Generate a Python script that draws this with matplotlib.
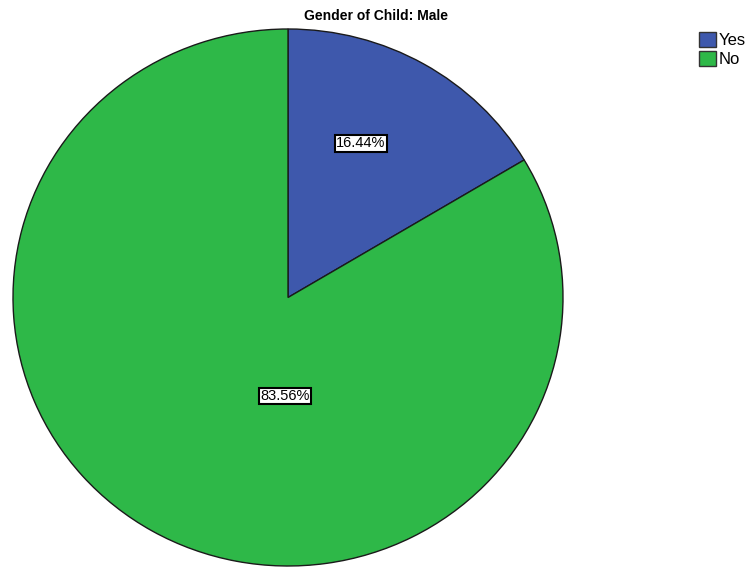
import numpy as np
import matplotlib.pyplot as plt
from matplotlib.patches import Patch

plt.rcParams['font.family'] = ['Liberation Sans', 'DejaVu Sans']

# data
categories = ['Yes', 'No']
values = [16.44, 83.56]
colors = ['#3E58AC', '#2EB848']
title = 'Gender of Child: Male'

W, H = 753, 567
fig = plt.figure(figsize=(W / 100, H / 100), dpi=100)

# pie box in pixels: left, top, right, bottom
l, t, r, b = 13, 29, 563, 566
ax = fig.add_axes([l / W, 1 - b / H, (r - l) / W, (b - t) / H])

wedges, _ = ax.pie(values, colors=colors, startangle=90, counterclock=False,
                   wedgeprops=dict(edgecolor='#1a1a1a', linewidth=1.0))
ax.set_aspect('auto')
ax.set_xlim(-1.0, 1.0)
ax.set_ylim(-1.0, 1.0)
ax.axis('off')

# percentage labels
label_pos = [(0.265, 0.575), (-0.01, -0.367)]
for (x, y), v in zip(label_pos, values):
    ax.text(x, y, f'{v:.2f}%', ha='center', va='center', fontsize=10.5,
            bbox=dict(boxstyle='square,pad=0.1', facecolor='white',
                      edgecolor='black', linewidth=1.5))

fig.text(0.5, 1 - 16 / H, title, ha='center', va='center',
         fontsize=10, fontweight='bold')

handles = [Patch(facecolor=c, edgecolor='#333333', label=n)
           for c, n in zip(colors, categories)]
fig.legend(handles=handles, loc='upper left',
           bbox_to_anchor=(699 / W, 1 - 32 / H), frameon=False,
           fontsize=12, handlelength=1.0, handleheight=1.0,
           handletextpad=0.15, labelspacing=0.15, borderpad=0.0,
           borderaxespad=0.0)

fig.savefig('out.png', dpi=100, facecolor='white')
